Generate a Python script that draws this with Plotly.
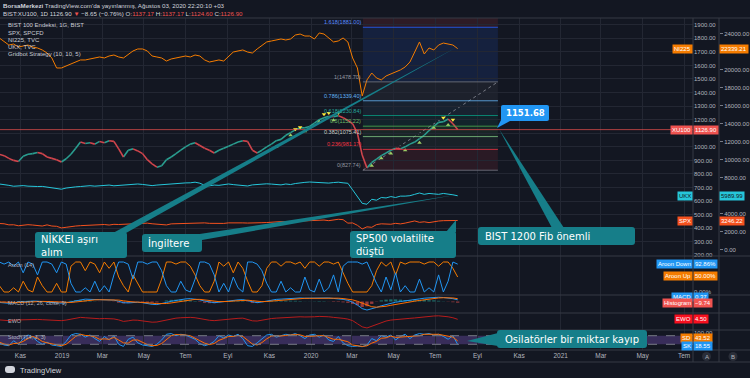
import pandas as pd
import plotly.graph_objects as go

W, H = 750, 378
def px(x): return x / W
def py(y): return 1 - y / H

# ---------------- data (weekly) ----------------
dates = pd.date_range("2018-10-01", "2020-08-03", freq="7D")  # 97 weekly points

xu100 = [945, 935, 915, 900, 892, 930, 945, 950, 958, 950,
         925, 915, 905, 888, 912, 945, 990, 1035, 1025, 1030,
         1020, 1040, 1030, 1045, 1040, 985, 925, 975, 985, 970,
         950, 905, 875, 850, 860, 905, 925, 950, 975, 1000,
         1020, 1030, 1010, 990, 975, 955, 975, 990, 1005, 1020,
         1035, 1045, 1040, 975, 955, 975, 1000, 1020, 1045, 1055,
         1085, 1105, 1125, 1140, 1140, 1150, 1175, 1200, 1215, 1225,
         1222, 1230, 1215, 1195, 1170, 1100, 940, 845, 885, 910,
         935, 955, 975, 990, 985, 1000, 1020, 1035, 1060, 1085,
         1120, 1150, 1180, 1185, 1205, 1170, 1126.90]

ni225 = [23520, 23080, 22740, 22850, 22520, 22630, 22740, 22520, 22410, 22190,
         21850, 21300, 20190, 20190, 20410, 20630, 20850, 21080, 21080, 21190,
         21300, 21410, 21300, 21520, 21630, 21410, 21300, 21740, 22080, 22300,
         22300, 22080, 21520, 21410, 21300, 20960, 21190, 21300, 21410, 21520,
         21410, 21630, 21520, 21080, 20850, 20960, 21080, 20960, 21520, 21960,
         22080, 22190, 21960, 21850, 22300, 22740, 23080, 23190, 23300, 23410,
         23300, 23410, 23850, 23960, 23740, 23740, 23410, 24080, 23960, 23520,
         23080, 23190, 23520, 23080, 21300, 20190, 17080, 18860, 19630, 19080,
         18860, 19300, 19520, 19740, 19970, 20300, 20850, 21960, 23080, 21740,
         22410, 22190, 22740, 22960, 22850, 22740, 22339.21]

ukx = [7300, 7250, 7150, 7050, 7100, 7120, 7060, 7080, 7020, 7030,
       6950, 6900, 6760, 6720, 6850, 6940, 6980, 7020, 7080, 7110,
       7060, 7120, 7140, 7180, 7100, 7150, 7200, 7250, 7230, 7300,
       7250, 7200, 7120, 7180, 7230, 7300, 7350, 7380, 7400, 7420,
       7430, 7500, 7390, 7150, 7100, 7180, 7150, 7250, 7300, 7230,
       7180, 7150, 7080, 7200, 7250, 7300, 7320, 7290, 7280, 7200,
       7300, 7240, 7350, 7450, 7480, 7520, 7480, 7500, 7450, 7400,
       7460, 7500, 7430, 7380, 6650, 5960, 5150, 5050, 5600, 5500,
       5800, 5750, 5900, 5800, 5950, 5950, 6000, 6150, 6300, 6150,
       6250, 6200, 6150, 6250, 6200, 6100, 5989.99]

spx = [2910, 2880, 2760, 2770, 2660, 2720, 2780, 2740, 2690, 2630,
       2760, 2630, 2600, 2420, 2490, 2590, 2630, 2670, 2700, 2710,
       2770, 2790, 2800, 2740, 2820, 2800, 2830, 2870, 2900, 2910,
       2940, 2950, 2880, 2860, 2830, 2750, 2870, 2890, 2950, 2940,
       2980, 3010, 3020, 2980, 2930, 2920, 2890, 2920, 2980, 3000,
       3005, 2980, 2960, 2950, 2970, 3000, 3020, 3070, 3090, 3120,
       3110, 3140, 3150, 3170, 3220, 3230, 3265, 3330, 3295, 3225,
       3330, 3380, 3337, 2954, 2972, 2711, 2305, 2541, 2489, 2790,
       2875, 2837, 2830, 2930, 2864, 2955, 3044, 3194, 3041, 3098,
       3009, 3130, 3185, 3225, 3216, 3271, 3246.22]

aroon_up = [21, 0, 0, 14, 0, 36, 7, 0, 50, 21,
            0, 0, 29, 0, 0, 86, 100, 100, 71, 100,
            93, 64, 100, 79, 100, 50, 21, 0, 57, 29,
            0, 0, 0, 0, 43, 100, 100, 93, 100, 100,
            86, 57, 21, 0, 0, 36, 100, 86, 100, 64,
            100, 79, 36, 0, 0, 21, 79, 100, 100, 86,
            100, 100, 93, 100, 79, 100, 100, 86, 100, 100,
            93, 100, 64, 29, 0, 0, 0, 0, 21, 71,
            100, 86, 100, 57, 100, 93, 100, 100, 100, 93,
            100, 100, 86, 100, 100, 79, 50]

aroon_down = [100, 93, 100, 86, 100, 64, 100, 93, 57, 100,
              100, 93, 64, 100, 93, 29, 0, 0, 14, 0,
              36, 0, 21, 0, 57, 100, 100, 93, 43, 100,
              100, 93, 100, 100, 71, 21, 0, 0, 36, 7,
              0, 43, 100, 100, 93, 57, 0, 29, 0, 50,
              14, 0, 100, 100, 93, 71, 29, 0, 0, 36,
              0, 14, 0, 0, 50, 7, 0, 43, 0, 14,
              57, 0, 86, 100, 100, 100, 93, 100, 64, 29,
              0, 50, 7, 64, 0, 21, 0, 0, 43, 0,
              14, 0, 57, 0, 36, 100, 92.86]

macd = [-8, -12, -15, -10, -6, -2, 2, 4, 3, 0,
        -4, -8, -10, -14, -10, -2, 8, 16, 20, 18,
        16, 14, 15, 14, 12, 2, -10, -12, -8, -6,
        -10, -18, -24, -26, -20, -8, 2, 10, 16, 22,
        24, 22, 14, 4, -4, -10, -6, 0, 6, 10,
        14, 16, 8, -6, -10, -4, 4, 12, 18, 20,
        24, 28, 30, 30, 28, 28, 30, 34, 34, 30,
        26, 24, 18, 10, -6, -30, -60, -72, -64, -50,
        -36, -24, -14, -6, 0, 4, 8, 14, 22, 28,
        32, 36, 36, 34, 30, 24, 14]

macd_signal = [-4, -6, -9, -10, -9, -7, -4, -1, 1, 1,
               0, -2, -5, -8, -10, -8, -4, 2, 8, 12,
               14, 15, 15, 15, 14, 12, 6, 0, -4, -5,
               -6, -9, -14, -18, -20, -17, -12, -6, 1, 8,
               14, 18, 18, 15, 10, 4, -1, -2, 0, 4,
               8, 11, 11, 7, 2, -1, 0, 4, 9, 13,
               17, 21, 24, 26, 27, 27, 28, 30, 31, 31,
               30, 28, 25, 21, 14, 2, -14, -32, -44, -48,
               -46, -40, -32, -24, -16, -9, -3, 3, 9, 15,
               21, 26, 30, 32, 32, 30, 23.74]

ewo = [-10, -20, -30, -15, -10, 0, 5, 8, 2, -5,
       -10, -15, -20, -30, -15, 10, 40, 55, 45, 35,
       25, 20, 25, 20, 15, -10, -50, -35, -15, -20,
       -35, -60, -70, -65, -40, -5, 20, 35, 45, 55,
       55, 45, 20, -5, -20, -30, -15, 0, 15, 25,
       30, 35, 5, -35, -40, -15, 10, 25, 35, 45,
       55, 65, 70, 70, 65, 60, 70, 80, 80, 70,
       55, 50, 30, 10, -30, -110, -190, -220, -170, -120,
       -70, -40, -15, 0, 10, 20, 30, 40, 55, 70,
       80, 90, 95, 90, 70, 45, 4.5]

stoch_k = [30, 15, 10, 45, 20, 60, 85, 70, 40, 20,
           35, 15, 10, 5, 40, 85, 95, 90, 70, 85,
           60, 40, 75, 50, 80, 20, 5, 55, 70, 30,
           15, 10, 5, 20, 50, 90, 95, 80, 90, 85,
           70, 55, 25, 10, 20, 40, 80, 65, 85, 75,
           90, 60, 10, 5, 30, 60, 85, 90, 70, 80,
           90, 85, 95, 80, 60, 85, 90, 70, 85, 50,
           40, 75, 30, 10, 5, 8, 3, 15, 60, 45,
           80, 70, 85, 50, 75, 90, 60, 85, 95, 90,
           95, 85, 90, 75, 55, 80, 18.55]

stoch_d = [35, 22, 15, 25, 28, 40, 60, 75, 62, 40,
           30, 25, 18, 10, 20, 45, 75, 90, 82, 80,
           72, 55, 58, 55, 68, 50, 30, 28, 50, 50,
           35, 18, 10, 12, 25, 55, 80, 88, 88, 85,
           80, 65, 45, 28, 18, 25, 48, 60, 75, 75,
           82, 75, 50, 22, 15, 32, 58, 78, 80, 78,
           82, 86, 88, 86, 75, 75, 80, 80, 80, 68,
           55, 55, 48, 38, 15, 8, 5, 9, 28, 40,
           62, 65, 78, 68, 70, 72, 75, 78, 80, 90,
           92, 90, 90, 83, 72, 70, 43.52]

gb_buy_dates = ["2019-11-11", "2019-12-02", "2019-12-23", "2020-01-13", "2020-02-03", "2020-03-30",
                "2020-04-13", "2020-04-27", "2020-05-18", "2020-06-08", "2020-06-29", "2020-07-20"]
gb_buy_vals = [1000, 1085, 1115, 1185, 1195, 860, 915, 950, 975, 1030, 1140, 1160]
gb_sell_dates = ["2019-12-09", "2019-12-16", "2020-01-20", "2020-01-27", "2020-02-10", "2020-07-13", "2020-07-27"]
gb_sell_vals = [1130, 1145, 1240, 1250, 1250, 1215, 1200]

tick_dates = ["2018-11-01", "2019-01-01", "2019-03-01", "2019-05-01", "2019-07-01", "2019-09-01",
              "2019-11-01", "2020-01-01", "2020-03-01", "2020-05-01", "2020-07-01", "2020-09-01",
              "2020-11-01", "2021-01-01", "2021-03-01", "2021-05-01", "2021-07-01"]
tick_labels = ["Kas", "2019", "Mar", "May", "Tem", "Eyl", "Kas", "2020", "Mar", "May", "Tem", "Eyl",
               "Kas", "2021", "Mar", "May", "Tem"]

# price-scale ticks (values hidden behind the last-value labels are left out)
y1_ticks = [200, 300, 400, 500, 600, 700, 800, 900, 1000, 1200, 1300, 1400, 1500, 1600, 1700, 1800, 1900]
y2_ticks = [0, 2000, 4000, 8000, 10000, 12000, 14000, 16000, 18000, 20000, 24000]

fib_ratios = ["1.618", "1", "0.786", "0.618", "0.5", "0.382", "0.236", "0"]
fib_values = [1881.00, 1478.70, 1339.40, 1230.84, 1152.22, 1075.41, 981.17, 827.74]
fib_colors = ["#2962ff", "#787b86", "#64b5f6", "#089981", "#4caf50", "#81c784", "#f23645", "#787b86"]
fib_label_colors = ["#5b8cff", "#9598a1", "#64b5f6", "#26a69a", "#66bb6a", "#c8d0c8", "#f23645", "#9598a1"]
fib_fills = ["rgba(41,98,255,0.13)", "rgba(120,123,134,0.10)", "rgba(100,181,246,0.07)",
             "rgba(8,153,129,0.10)", "rgba(76,175,80,0.10)", "rgba(129,199,132,0.06)",
             "rgba(242,54,69,0.10)"]
fib_start, fib_end = "2020-03-17", "2020-10-01"

X_RANGE = ["2018-10-02", "2021-07-14"]
Y1_RANGE = [195.5, 1949.4]
Y2_RANGE = [-700, 25742]

BG = "#131722"
GRID = "#232733"
SEP = "#363a45"
TXT = "#b2b5be"
FONT = "Liberation Sans"

# ---------------- traces ----------------
up_x, up_y, dn_x, dn_y = [], [], [], []
for i in range(1, len(xu100)):
    seg_x = [dates[i - 1], dates[i], None]
    seg_y = [xu100[i - 1], xu100[i], None]
    if xu100[i] >= xu100[i - 1]:
        up_x += seg_x; up_y += seg_y
    else:
        dn_x += seg_x; dn_y += seg_y

fig = go.Figure()
fig.add_trace(go.Scatter(x=dates, y=ni225, mode="lines", line=dict(color="#f57c00", width=1), yaxis="y2", xaxis="x"))
fig.add_trace(go.Scatter(x=dates, y=ukx, mode="lines", line=dict(color="#26c6da", width=1), yaxis="y2", xaxis="x"))
fig.add_trace(go.Scatter(x=dates, y=spx, mode="lines", line=dict(color="#f4511e", width=1), yaxis="y2", xaxis="x"))
fig.add_trace(go.Scatter(x=up_x, y=up_y, mode="lines", line=dict(color="#2a9d8f", width=1.6), xaxis="x", yaxis="y"))
fig.add_trace(go.Scatter(x=dn_x, y=dn_y, mode="lines", line=dict(color="#d0454c", width=1.6), xaxis="x", yaxis="y"))
fig.add_trace(go.Scatter(x=gb_buy_dates, y=gb_buy_vals, mode="markers",
                         marker=dict(symbol="triangle-up", size=4, color="#9ccc65"), xaxis="x", yaxis="y"))
fig.add_trace(go.Scatter(x=gb_sell_dates, y=gb_sell_vals, mode="markers",
                         marker=dict(symbol="triangle-down", size=4, color="#ffeb3b"), xaxis="x", yaxis="y"))

fig.add_trace(go.Scatter(x=dates, y=aroon_up, mode="lines", line=dict(color="#f57c00", width=1), xaxis="x2", yaxis="y3"))
fig.add_trace(go.Scatter(x=dates, y=aroon_down, mode="lines", line=dict(color="#2196f3", width=1), xaxis="x2", yaxis="y3"))
hist = [m - s for m, s in zip(macd, macd_signal)]
fig.add_trace(go.Bar(x=dates, y=hist, marker=dict(color=["rgba(38,166,154,0.6)" if v >= 0 else "rgba(239,83,80,0.6)" for v in hist],
                     line=dict(width=0)), xaxis="x3", yaxis="y4"))
fig.add_trace(go.Scatter(x=dates, y=macd, mode="lines", line=dict(color="#2196f3", width=1), xaxis="x3", yaxis="y4"))
fig.add_trace(go.Scatter(x=dates, y=macd_signal, mode="lines", line=dict(color="#ff6d00", width=1), xaxis="x3", yaxis="y4"))
fig.add_trace(go.Scatter(x=dates, y=ewo, mode="lines", line=dict(color="#b71c1c", width=1), xaxis="x4", yaxis="y5"))
fig.add_trace(go.Scatter(x=dates, y=stoch_k, mode="lines", line=dict(color="#2196f3", width=1), xaxis="x5", yaxis="y6"))
fig.add_trace(go.Scatter(x=dates, y=stoch_d, mode="lines", line=dict(color="#ff6d00", width=1), xaxis="x5", yaxis="y6"))

# ---------------- axes ----------------
xdom = [0, px(693)]
def xax(anchor, labels=False):
    return dict(domain=xdom, anchor=anchor, range=X_RANGE, type="date", showgrid=True, gridcolor=GRID, gridwidth=1,
                tickvals=tick_dates, ticktext=tick_labels, showticklabels=labels, zeroline=False, showline=False,
                ticks="", tickfont=dict(size=6.5, color=TXT, family=FONT), automargin=False,
                rangeslider=dict(visible=False))

layout = dict(
    width=W, height=H, margin=dict(l=0, r=0, t=0, b=0), paper_bgcolor=BG, plot_bgcolor=BG,
    showlegend=False, template="none", bargap=0.3,
    font=dict(family=FONT, color=TXT, size=6),
    xaxis=xax("y"), xaxis2=dict(xax("y3"), matches="x"), xaxis3=dict(xax("y4"), matches="x"),
    xaxis4=dict(xax("y5"), matches="x"), xaxis5=dict(xax("y6", True), matches="x"),
    yaxis=dict(domain=[py(256), py(18)], anchor="x", side="right", range=Y1_RANGE,
               tickvals=list(range(200, 2000, 100)), ticktext=[f"{v}.00" if v in y1_ticks else "" for v in range(200, 2000, 100)],
               showgrid=True, gridcolor=GRID, zeroline=False, showline=False, ticks="",
               tickfont=dict(size=6, color=TXT, family=FONT), automargin=False),
    yaxis2=dict(overlaying="y", anchor="free", position=px(719), side="right", range=Y2_RANGE,
                tickvals=list(range(0, 26000, 2000)), ticktext=[f"{v}.00" if v in y2_ticks else "" for v in range(0, 26000, 2000)],
                showgrid=False, zeroline=False, showline=False, ticks="outside", ticklen=3, tickcolor="#787b86",
                tickfont=dict(size=6, color=TXT, family=FONT), automargin=False),
    yaxis3=dict(domain=[py(295), py(256)], anchor="x2", side="right", range=[-10, 120], tickvals=[0],
                ticktext=["0.00%"], showgrid=False, zeroline=False, ticks="",
                tickfont=dict(size=6, color=TXT, family=FONT), automargin=False),
    yaxis4=dict(domain=[py(313), py(295)], anchor="x3", side="right", range=[-97, 55], showticklabels=False,
                showgrid=False, zeroline=False, automargin=False),
    yaxis5=dict(domain=[py(330), py(313)], anchor="x4", side="right", range=[-272, 168], showticklabels=False,
                showgrid=False, zeroline=False, automargin=False),
    yaxis6=dict(domain=[py(350), py(330)], anchor="x5", side="right", range=[-20, 120], tickvals=[100],
                ticktext=["100.00"], showgrid=False, zeroline=False, ticks="",
                tickfont=dict(size=6, color=TXT, family=FONT), automargin=False),
)
fig.update_layout(**layout)

shapes = []
shapes.append(dict(type="rect", xref="x", yref="y", x0=fib_start, x1=fib_end, y0=fib_values[0], y1=Y1_RANGE[1],
                   fillcolor="rgba(242,54,69,0.12)", line=dict(width=0), layer="below"))
for i in range(len(fib_values) - 1):
    shapes.append(dict(type="rect", xref="x", yref="y", x0=fib_start, x1=fib_end, y0=fib_values[i + 1],
                       y1=fib_values[i], fillcolor=fib_fills[i], line=dict(width=0), layer="below"))
for v, c in zip(fib_values, fib_colors):
    shapes.append(dict(type="line", xref="x", yref="y", x0=fib_start, x1=fib_end, y0=v, y1=v,
                       line=dict(color=c, width=1), opacity=0.8))
# fib trend line (from level 0 to level 1), dotted, behind the price
shapes.append(dict(type="line", xref="x", yref="y", x0=fib_start, y0=fib_values[-1], x1=fib_end, y1=fib_values[1],
                   line=dict(color="#787b86", width=1, dash="dot"), layer="below"))
shapes.append(dict(type="line", xref="paper", yref="y", x0=0, x1=px(693), y0=xu100[-1], y1=xu100[-1],
                   line=dict(color="rgba(239,83,80,0.7)", width=1)))
shapes.append(dict(type="rect", xref="paper", yref="y6", x0=0, x1=px(693), y0=20, y1=80,
                   fillcolor="rgba(126,87,194,0.35)", line=dict(width=0), layer="below"))
for lv in (20, 80):
    shapes.append(dict(type="line", xref="paper", yref="y6", x0=0, x1=px(693), y0=lv, y1=lv,
                       line=dict(color="#787b86", width=1, dash="dash")))
for yy in (18, 256, 295, 313, 330, 350, 362):
    shapes.append(dict(type="line", xref="paper", yref="paper", x0=0, x1=1, y0=py(yy), y1=py(yy),
                       line=dict(color=SEP, width=1)))
for xx in (693, 719):
    shapes.append(dict(type="line", xref="paper", yref="paper", x0=px(xx), x1=px(xx), y0=py(18), y1=py(362),
                       line=dict(color=SEP, width=1)))

def rrect(x0, y0, x1, y1, r=3):
    pts = [("M", x0 + r, y0), ("L", x1 - r, y0), ("Q", x1, y0, x1, y0 + r), ("L", x1, y1 - r),
           ("Q", x1, y1, x1 - r, y1), ("L", x0 + r, y1), ("Q", x0, y1, x0, y1 - r), ("L", x0, y0 + r),
           ("Q", x0, y0, x0 + r, y0)]
    s = ""
    for p in pts:
        if p[0] == "Q":
            s += f"Q{px(p[1]):.5f},{py(p[2]):.5f} {px(p[3]):.5f},{py(p[4]):.5f} "
        else:
            s += f"{p[0]}{px(p[1]):.5f},{py(p[2]):.5f} "
    return s + "Z"

def tri(a, b, c):
    return f"M{px(a[0]):.5f},{py(a[1]):.5f} L{px(b[0]):.5f},{py(b[1]):.5f} L{px(c[0]):.5f},{py(c[1]):.5f} Z"

TEAL = "#167e89"
callouts = [
    ((35, 232, 127, 258), ((113, 233), (126, 233), (457, 47)), "NİKKEI aşırı<br>alım", 39, 245),
    ((142, 234, 202, 252), ((193, 235), (202, 240), (455, 195)), "İngiltere", 146, 243),
    ((350, 231, 456, 258), ((446, 232), (456, 232), (456, 220)), "SP500 volatilite<br>düştü", 354, 245),
    ((478, 227, 635, 245), ((552, 228), (564, 228), (499, 129)), "BIST 1200 Fib önemli", 483, 236),
    ((497, 330, 647, 348), ((498, 333), (498, 346), (467, 341)), "Osilatörler bir miktar kayıp", 503, 339),
]
for box, tail, *_ in callouts:
    shapes.append(dict(type="path", xref="paper", yref="paper", path=tri(*tail), fillcolor=TEAL, line=dict(width=0)))
    shapes.append(dict(type="path", xref="paper", yref="paper", path=rrect(*box), fillcolor=TEAL, line=dict(width=0)))
shapes.append(dict(type="path", xref="paper", yref="paper", path=tri((502, 118), (510, 121), (497, 128)),
                   fillcolor="#2196f3", line=dict(width=0)))
shapes.append(dict(type="path", xref="paper", yref="paper", path=rrect(501, 105, 549, 121, 2),
                   fillcolor="#2196f3", line=dict(width=0)))
for cx in (706.5, 733):
    shapes.append(dict(type="circle", xref="paper", yref="paper", x0=px(cx - 4.5), x1=px(cx + 4.5),
                       y0=py(361), y1=py(352), fillcolor="#2a2e39", line=dict(width=0)))
shapes.append(dict(type="path", xref="paper", yref="paper", path=rrect(5, 366, 15, 373, 3),
                   fillcolor="#d1d4dc", line=dict(width=0)))
fig.update_layout(shapes=shapes)

ann = []
def text(t, x, y, size=6, color=TXT, xanchor="left", family=FONT, **kw):
    ann.append(dict(text=t, x=px(x), y=py(y), xref="paper", yref="paper", xanchor=xanchor, yanchor="middle",
                    showarrow=False, font=dict(size=size, color=color, family=family), **kw))

RED = "#ef5350"
text("<b>BorsaMerkezi</b> TradingView.com'da yayınlanmış, Ağustos 03, 2020 22:20:10 +03", 1, 5, 6.2, "#d1d4dc")
text(f"BIST:XU100, 1D 1126.90 <span style='color:{RED}'>▼</span> −8.65 (−0.76%) "
     f"O:<span style='color:{RED}'>1137.17</span> H:<span style='color:{RED}'>1137.17</span> "
     f"L:<span style='color:{RED}'>1124.60</span> C:<span style='color:{RED}'>1126.90</span>", 1, 13, 6.2, "#d1d4dc")
for t, yy in [("BIST 100 Endeksi, 1G, BIST", 25), ("SPX, SPCFD", 32.7), ("NI225, TVC", 40), ("UKX, TVC", 47.3),
              ("Gridbot Strategy (10, 10, 5)", 54)]:
    text(t, 6, yy, 6, "#c9ccd4")
for t, yy in [("Aroon (14)", 265), ("MACD (12, 26, close, 9)", 302.7), ("EWO", 320.7), ("Stoch (14, 3, 3)", 337.3)]:
    text(t, 6, yy, 5.5, TXT)

for r, v, c in zip(fib_ratios, fib_values, fib_label_colors):
    ann.append(dict(text=f"{r}({v:.2f})", x=fib_start, y=v, xref="x", yref="y", xanchor="right", yanchor="bottom",
                    showarrow=False, font=dict(size=5.5, color=c, family=FONT)))

for box, tail, t, tx, ty in callouts:
    text(t, tx, ty, 10, "#ffffff", family="DejaVu Sans", align="left")
text("<b>1151.68</b>", 525, 113, 8.5, "#ffffff", xanchor="center", family="DejaVu Sans")

def lab(t, x, y, bg, side, fg="#ffffff"):
    ann.append(dict(text=t, x=px(x), y=py(y), xref="paper", yref="paper",
                    xanchor="right" if side == "r" else "left", yanchor="middle", showarrow=False,
                    bgcolor=bg, borderpad=1, font=dict(size=6, color=fg, family=FONT)))

lab("NI225", 693, 48.5, "#f57c00", "r"); lab("22339.21", 719, 48.5, "#f57c00", "l")
lab("XU100", 693, 130, RED, "r"); lab("1126.90", 693, 130, RED, "l")
lab("UKX", 693, 195.5, "#26c6da", "r", "#131722"); lab("5989.99", 719, 195.5, "#26c6da", "l", "#131722")
lab("SPX", 693, 220.5, "#f4511e", "r"); lab("3246.22", 719, 220.5, "#f4511e", "l")
lab("Aroon Down", 693, 263.5, "#2196f3", "r"); lab("92.86%", 693, 263.5, "#2196f3", "l")
lab("Aroon Up", 693, 275.5, "#f57c00", "r"); lab("50.00%", 693, 275.5, "#f57c00", "l")
lab("MACD", 693, 296.5, "#2196f3", "r"); lab("0.37", 693, 296.5, "#2196f3", "l")
lab("Histogram", 693, 303, RED, "r"); lab("−9.74", 693, 303, RED, "l")
lab("EWO", 693, 319.3, "#f7101f", "r"); lab("4.50", 693, 319.3, "#f7101f", "l")
lab("SD", 693, 337.5, "#f57c00", "r"); lab("43.52", 693, 337.5, "#f57c00", "l")
lab("SK", 693, 346, "#2196f3", "r"); lab("18.55", 693, 346, "#2196f3", "l")

text("A", 706.5, 356.5, 6, TXT, xanchor="center")
text("B", 733, 356.5, 6, TXT, xanchor="center")
text("TradingView", 18, 370, 7.5, "#d1d4dc")

fig.update_layout(annotations=ann)
fig.write_html("out.html", config={"displayModeBar": False},
               post_script="document.body.style.margin='0px';document.body.style.overflow='hidden';")
